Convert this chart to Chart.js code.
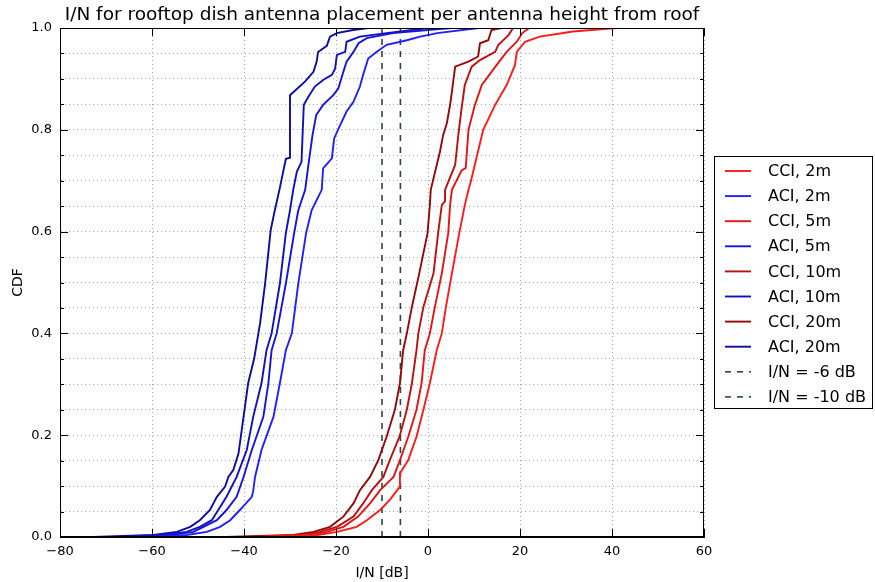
<!DOCTYPE html>
<html>
<head>
<meta charset="utf-8">
<script src="https://cdn.jsdelivr.net/npm/chart.js@4/dist/chart.umd.min.js"></script>
<style>
  html, body { margin: 0; padding: 0; background: #fff; }
  #wrap { width: 875px; height: 582px; }
</style>
</head>
<body>
<div id="wrap"><canvas id="chart" width="875" height="582"></canvas></div>
<script>
// CDF levels (y) and I/N values in dB (x)
const cci2Y = [0, 0.004, 0.01, 0.02, 0.033, 0.053, 0.073, 0.099, 0.125, 0.151, 0.197, 0.25, 0.302, 0.367, 0.4, 0.452, 0.518, 0.597, 0.652, 0.682, 0.698, 0.8, 0.849, 0.888, 0.927, 0.953, 0.973, 0.983, 0.993, 1.0];
const cci2X = [-36, -24, -19.8, -15.5, -13.3, -10.4, -8.3, -6.1, -6.1, -4.3, -2.5, -1, 0.4, 1.9, 3, 3.9, 5.2, 6.8, 8, 8.8, 9.3, 12, 14.6, 17.1, 18.9, 19.3, 21.1, 24.3, 31.5, 41];

const aci2Y = [0, 0.004, 0.01, 0.02, 0.033, 0.053, 0.079, 0.09, 0.118, 0.171, 0.236, 0.302, 0.367, 0.4, 0.498, 0.597, 0.642, 0.682, 0.724, 0.744, 0.783, 0.809, 0.836, 0.855, 0.885, 0.908, 0.94, 0.953, 0.967, 0.976, 0.983, 0.99, 1.0];
const aci2X = [-60, -52.5, -48.1, -45.2, -43, -40.9, -38.3, -38, -37.6, -36.2, -33.6, -32.2, -30.9, -29.6, -28.2, -26.5, -25.3, -23.1, -22.8, -20.9, -20.4, -19.1, -17.7, -16.2, -14.8, -14.1, -13, -11.2, -9, -4.6, -1.7, 2, 11];

const cci5Y = [0, 0.004, 0.01, 0.02, 0.04, 0.066, 0.092, 0.118, 0.151, 0.197, 0.25, 0.302, 0.367, 0.4, 0.452, 0.518, 0.597, 0.652, 0.682, 0.72, 0.725, 0.8, 0.849, 0.888, 0.927, 0.953, 0.973, 0.99, 1.0];
const cci5X = [-38, -25.5, -22, -18.4, -15.2, -12.6, -10.4, -7.5, -6.1, -4.3, -2.5, -1.4, -0.7, 0.4, 1.5, 3, 4.4, 4.8, 5.2, 7.3, 8.2, 8.8, 10.2, 11.7, 14.9, 17.1, 19.3, 20.5, 22];

const aci5Y = [0, 0.004, 0.01, 0.02, 0.033, 0.053, 0.079, 0.118, 0.171, 0.236, 0.302, 0.367, 0.4, 0.498, 0.597, 0.642, 0.682, 0.731, 0.79, 0.829, 0.849, 0.868, 0.881, 0.914, 0.934, 0.953, 0.97, 0.98, 0.99, 1.0];
const aci5X = [-64, -56.1, -51, -48.8, -45.9, -43.8, -41.6, -40.1, -38.3, -35.8, -34.7, -34, -32.9, -30.9, -29.1, -28.2, -26.7, -26, -25.1, -24.3, -22.8, -20.6, -19.5, -18.4, -17.7, -16.2, -15.1, -13.3, -7.6, 5];

const cci10Y = [0, 0.004, 0.01, 0.02, 0.04, 0.066, 0.092, 0.118, 0.151, 0.197, 0.25, 0.302, 0.367, 0.4, 0.452, 0.518, 0.597, 0.652, 0.66, 0.682, 0.731, 0.79, 0.842, 0.888, 0.924, 0.937, 0.953, 0.967, 0.986, 1.0];
const cci10X = [-40, -27, -23.5, -19.8, -16.2, -14.1, -12.2, -9.7, -8.3, -6.2, -4.6, -3.5, -2.5, -2.1, -1, 1.2, 2.2, 3, 3.7, 3.7, 5.9, 6.6, 7.3, 8, 9.5, 11.3, 14.6, 15.3, 17.5, 18.5];

const aci10Y = [0, 0.004, 0.01, 0.02, 0.033, 0.053, 0.079, 0.118, 0.171, 0.236, 0.302, 0.367, 0.4, 0.498, 0.597, 0.642, 0.682, 0.718, 0.737, 0.849, 0.865, 0.885, 0.898, 0.908, 0.92, 0.947, 0.953, 0.973, 0.983, 0.99, 1.0];
const aci10X = [-68, -57.5, -52.5, -49.6, -47, -45.6, -43.8, -41.6, -39.4, -38, -36.2, -35.1, -34, -32.2, -30.9, -30, -29.3, -28.5, -27.5, -27, -26, -24.6, -22.8, -20.9, -20.2, -19.8, -18, -17.7, -14.8, -9, 0];

const cci20Y = [0, 0.004, 0.01, 0.02, 0.04, 0.066, 0.092, 0.118, 0.151, 0.197, 0.25, 0.302, 0.367, 0.4, 0.452, 0.518, 0.597, 0.652, 0.682, 0.731, 0.757, 0.79, 0.813, 0.849, 0.875, 0.924, 0.934, 0.944, 0.97, 0.976, 0.996, 1.0];
const cci20X = [-44, -29.3, -24.9, -21.3, -18.4, -16.2, -14.8, -12.6, -10.8, -9, -7.2, -6.1, -5.4, -4.6, -3.5, -1.9, -0.1, 0.4, 0.6, 1.9, 2.6, 3.3, 4.1, 4.8, 5.2, 5.9, 8.8, 10.9, 11.3, 13.1, 13.8, 16];

const aci20Y = [0, 0.004, 0.01, 0.02, 0.033, 0.053, 0.079, 0.099, 0.118, 0.132, 0.164, 0.236, 0.302, 0.35, 0.42, 0.499, 0.603, 0.642, 0.682, 0.743, 0.745, 0.868, 0.895, 0.914, 0.934, 0.953, 0.965, 0.983, 0.99, 0.996, 1.0];
const aci20X = [-72.8, -59.7, -54.6, -51.7, -49.6, -47.4, -45.9, -44.1, -43.4, -42.3, -41.2, -40.1, -39.1, -37.8, -36.5, -35.4, -34.2, -33.3, -32.3, -30.9, -30, -30, -26.7, -24.9, -24.2, -23.9, -22, -21.3, -19.8, -16.3, -13];

const thresholds = [-6, -10];
const seriesNames = ['CCI, 2m', 'ACI, 2m', 'CCI, 5m', 'ACI, 5m', 'CCI, 10m', 'ACI, 10m', 'CCI, 20m', 'ACI, 20m'];
const xTicks = [-80, -60, -40, -20, 0, 20, 40, 60];

const pts = (xs, ys) => xs.map((x, i) => ({x: x, y: ys[i]}));

const curve = (label, xs, ys, color) => ({
    label: label,
    data: pts(xs, ys),
    borderColor: color,
    backgroundColor: color,
    borderWidth: 1.9,
    pointRadius: 0,
    showLine: true,
    tension: 0,
});

const vline = (value) => ({
    label: 'I/N = ' + value + ' dB',
    data: [{x: value, y: 0}, {x: value, y: 1}],
    borderColor: '#2a4a3a',
    backgroundColor: '#2a4a3a',
    borderWidth: 1.6,
    borderDash: [6, 6],
    pointRadius: 0,
    showLine: true,
});

const minus = (s) => String(s).replace('-', '\u2212');

// frame, inward ticks and boxed legend (matplotlib look)
const decor = {
    id: 'decor',
    afterDraw(chart) {
        const ctx = chart.ctx;
        const a = chart.chartArea;
        const xs = chart.scales.x, ys = chart.scales.y;
        ctx.save();
        ctx.strokeStyle = '#000';
        ctx.lineWidth = 1;
        ctx.strokeRect(a.left + 0.5, a.top + 0.5, a.right - a.left - 1, a.bottom - a.top - 1);
        ctx.beginPath();
        xTicks.forEach(v => {
            const p = Math.round(xs.getPixelForValue(v)) + 0.5;
            ctx.moveTo(p, a.bottom); ctx.lineTo(p, a.bottom - 8);
            ctx.moveTo(p, a.top); ctx.lineTo(p, a.top + 8);
        });
        for (let i = 0; i <= 20; i++) {
            const p = Math.round(ys.getPixelForValue(i * 0.05)) + 0.5;
            const len = i % 4 === 0 ? 8 : 4;
            ctx.moveTo(a.left, p); ctx.lineTo(a.left + len, p);
            ctx.moveTo(a.right, p); ctx.lineTo(a.right - len, p);
        }
        ctx.stroke();

        // legend
        const lx = 714, ly = 156, lw = 159, lh = 253, row = 25.1;
        ctx.fillStyle = '#fff';
        ctx.fillRect(lx, ly, lw, lh);
        ctx.strokeStyle = '#000';
        ctx.strokeRect(lx + 0.5, ly + 0.5, lw - 1, lh - 1);
        ctx.font = '16px "DejaVu Sans"';
        ctx.textBaseline = 'middle';
        chart.data.datasets.forEach((ds, i) => {
            const y = ly + 15 + i * row;
            ctx.strokeStyle = ds.borderColor;
            ctx.lineWidth = ds.borderWidth;
            ctx.setLineDash(ds.borderDash || []);
            ctx.beginPath();
            ctx.moveTo(725, y); ctx.lineTo(751, y);
            ctx.stroke();
            ctx.setLineDash([]);
            ctx.fillStyle = '#000';
            ctx.fillText(ds.label, 768, y + 1);
        });
        ctx.restore();
    }
};

const ctx = document.getElementById('chart');
new Chart(ctx, {
    type: 'scatter',
    data: {
        datasets: [
            curve(seriesNames[0], cci2X, cci2Y, '#ff1a1a'),
            curve(seriesNames[1], aci2X, aci2Y, '#1f1fff'),
            curve(seriesNames[2], cci5X, cci5Y, '#e41414'),
            curve(seriesNames[3], aci5X, aci5Y, '#1414e0'),
            curve(seriesNames[4], cci10X, cci10Y, '#bb1010'),
            curve(seriesNames[5], aci10X, aci10Y, '#1010bd'),
            curve(seriesNames[6], cci20X, cci20Y, '#960808'),
            curve(seriesNames[7], aci20X, aci20Y, '#0c0ca0'),
            vline(thresholds[0]),
            vline(thresholds[1]),
        ]
    },
    options: {
        responsive: false,
        animation: false,
        events: [],
        layout: {
            padding: {left: 0, right: 171, top: 0, bottom: 0}
        },
        plugins: {
            legend: {display: false},
            tooltip: {enabled: false},
            title: {
                display: true,
                fullSize: false,
                text: 'I/N for rooftop dish antenna placement per antenna height from roof',
                color: '#000',
                font: {family: 'DejaVu Sans', size: 18.5, weight: 'normal', lineHeight: 1.2},
                padding: {top: 4, bottom: 1.8},
            }
        },
        scales: {
            x: {
                type: 'linear',
                min: -80,
                max: 60,
                afterBuildTicks: (scale) => { scale.ticks = xTicks.map(v => ({value: v})); },
                afterFit: (scale) => { scale.height = 45; },
                border: {display: true, color: '#000', dash: [1, 3]},
                grid: {color: '#a8a8a8', lineWidth: 1, tickLength: 0, drawTicks: false},
                ticks: {
                    color: '#000',
                    padding: 7,
                    maxRotation: 0,
                    font: {family: 'DejaVu Sans', size: 13},
                    callback: (v) => minus(v),
                },
                title: {
                    display: true,
                    text: 'I/N [dB]',
                    color: '#000',
                    font: {family: 'DejaVu Sans', size: 14},
                    padding: {top: 2, bottom: 0},
                }
            },
            y: {
                type: 'linear',
                min: 0,
                max: 1,
                afterFit: (scale) => { scale.width = 60; },
                border: {display: true, color: '#000', dash: [1, 3]},
                grid: {color: '#a8a8a8', lineWidth: 1, tickLength: 0, drawTicks: false},
                ticks: {
                    stepSize: 0.05,
                    autoSkip: false,
                    color: '#000',
                    padding: 8,
                    font: {family: 'DejaVu Sans', size: 13},
                    callback: (v) => Math.round(v * 100) % 20 === 0 ? v.toFixed(1) : '',
                },
                title: {
                    display: true,
                    text: 'CDF',
                    color: '#000',
                    font: {family: 'DejaVu Sans', size: 14},
                    padding: {top: 10, bottom: 0},
                }
            }
        }
    },
    plugins: [decor]
});
</script>
</body>
</html>
